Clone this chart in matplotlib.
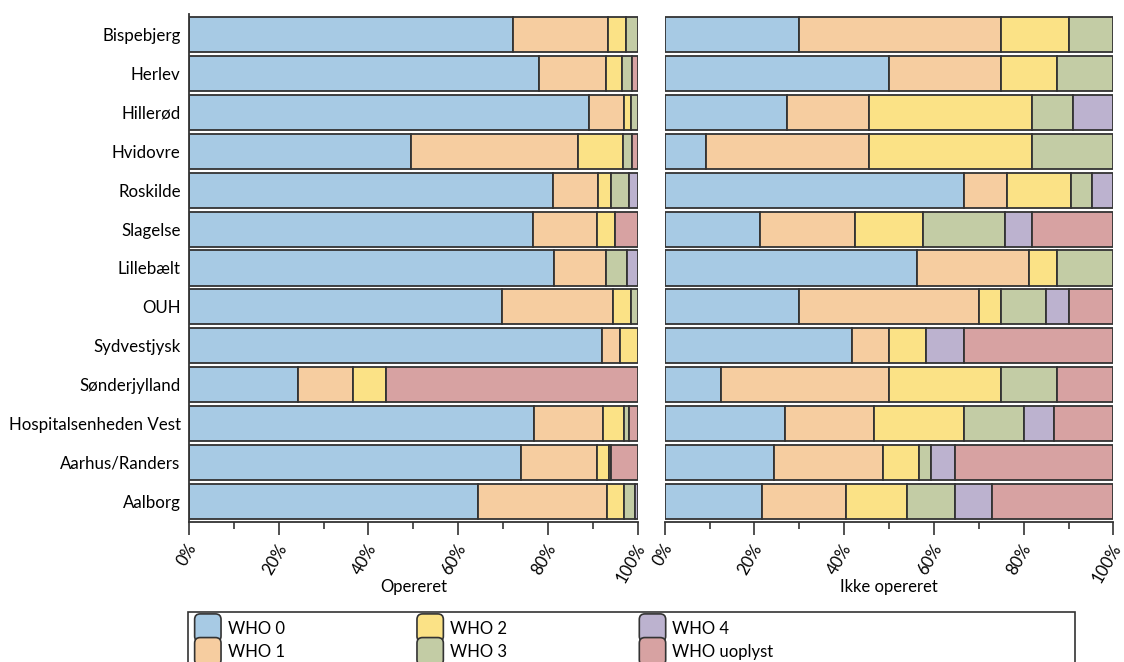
import numpy as np
import matplotlib
matplotlib.use("Agg")
import matplotlib.pyplot as plt
import matplotlib.transforms as mtransforms
from matplotlib.patches import FancyBboxPatch, Rectangle
from matplotlib.legend_handler import HandlerPatch
from matplotlib.ticker import MultipleLocator, FuncFormatter

# hospitals, top to bottom
hospitals = ["Bispebjerg", "Herlev", "Hillerød", "Hvidovre", "Roskilde", "Slagelse",
             "Lillebælt", "OUH", "Sydvestjysk", "Sønderjylland",
             "Hospitalsenheden Vest", "Aarhus/Randers", "Aalborg"]

categories = ["WHO 0", "WHO 1", "WHO 2", "WHO 3", "WHO 4", "WHO uoplyst"]

# opereret (%)
op_who0 = [72.3, 77.9, 89.2, 49.4, 81.1, 76.7, 81.4, 69.8, 92.0, 24.4, 77.0, 73.9, 64.4]
op_who1 = [21.1, 15.1, 7.7, 37.4, 10.0, 14.2, 11.6, 24.8, 4.0, 12.2, 15.3, 17.0, 28.8]
op_who2 = [3.9, 3.6, 1.5, 9.9, 3.0, 4.0, 0, 3.8, 4.0, 7.3, 4.7, 2.7, 3.8]
op_who3 = [2.7, 2.2, 1.6, 2.1, 4.0, 0, 4.7, 1.6, 0, 0, 1.1, 0.5, 2.3]
op_who4 = [0, 0, 0, 0, 1.9, 0, 2.3, 0, 0, 0, 0, 0, 0.7]
op_uopl = [0, 1.2, 0, 1.2, 0, 5.1, 0, 0, 0, 56.1, 1.9, 5.9, 0]

# ikke opereret (%)
ik_who0 = [30.0, 50.0, 27.3, 9.1, 66.7, 21.2, 56.3, 30.0, 41.7, 12.5, 26.7, 24.3, 21.6]
ik_who1 = [45.0, 25.0, 18.2, 36.4, 9.5, 21.2, 25.0, 40.0, 8.3, 37.5, 20.0, 24.3, 18.9]
ik_who2 = [15.0, 12.5, 36.4, 36.4, 14.3, 15.2, 6.2, 5.0, 8.3, 25.0, 20.0, 8.1, 13.5]
ik_who3 = [10.0, 12.5, 9.1, 18.1, 4.7, 18.2, 12.5, 10.0, 0, 12.5, 13.3, 2.7, 10.8]
ik_who4 = [0, 0, 9.0, 0, 4.8, 6.1, 0, 5.0, 8.3, 0, 6.7, 5.4, 8.1]
ik_uopl = [0, 0, 0, 0, 0, 18.1, 0, 10.0, 33.4, 12.5, 13.3, 35.2, 27.1]

colors = ["#A7CAE4", "#F6CDA0", "#FBE286", "#C3CCA5", "#BCB2CF", "#D7A2A2"]
edge = "#333333"

plt.rcParams['font.family'] = ['Lato', 'DejaVu Sans']

W, H = 1124, 662


def stacked(fig, ax, series):
    y = np.arange(len(hospitals))
    left = np.zeros(len(hospitals))
    for vals, col, name in zip(series, colors, categories):
        vals = np.array(vals, dtype=float)
        lw = np.where(vals > 0, 1.3, 0.0)
        ax.barh(y, vals, left=left, height=0.9, color=col, edgecolor=edge,
                linewidth=lw, label=name)
        left += vals
    ax.set_xlim(0, 100)
    ax.set_ylim(len(hospitals) - 0.5 + 0.03, -0.5 - 0.03)

    # axis styling
    for s in ["top", "right"]:
        ax.spines[s].set_visible(False)
    for s in ["bottom", "left"]:
        ax.spines[s].set_color(edge)
        ax.spines[s].set_linewidth(1.3)
    ax.xaxis.set_major_locator(MultipleLocator(20))
    ax.xaxis.set_minor_locator(MultipleLocator(10))
    ax.xaxis.set_major_formatter(FuncFormatter(lambda v, p: "%d%%" % v))
    ax.tick_params(axis="x", which="major", length=9.5, width=1.2, color=edge,
                   labelsize=12, pad=7)
    ax.tick_params(axis="x", which="minor", length=5, width=1.2, color=edge)
    # rotated labels, nudged a little to the right like the original
    offset = mtransforms.ScaledTranslation(4 / 100, 0, fig.dpi_scale_trans)
    for lab in ax.get_xticklabels():
        lab.set_rotation(60)
        lab.set_ha("right")
        lab.set_va("center")
        lab.set_rotation_mode("anchor")
        lab.set_transform(lab.get_transform() + offset)
    ax.set_yticks(y)
    ax.tick_params(axis="y", length=0)


class RoundPatchHandler(HandlerPatch):
    def create_artists(self, legend, orig_handle, xdescent, ydescent,
                       width, height, fontsize, trans):
        w, h = 19, 20
        x0 = (width - w) / 2 - xdescent
        y0 = (height - h) / 2 - ydescent
        p = FancyBboxPatch((x0, y0), w, h, boxstyle="round,pad=0,rounding_size=4",
                           facecolor=orig_handle.get_facecolor(),
                           edgecolor=edge, linewidth=1.2, transform=trans)
        return [p]


def main():
    fig = plt.figure(figsize=(W / 100, H / 100), dpi=100)

    ax1 = fig.add_axes([189 / W, 140 / H, 448.7 / W, 508 / H])
    ax2 = fig.add_axes([664.7 / W, 140 / H, 448.7 / W, 508 / H])

    stacked(fig, ax1, [op_who0, op_who1, op_who2, op_who3, op_who4, op_uopl])
    stacked(fig, ax2, [ik_who0, ik_who1, ik_who2, ik_who3, ik_who4, ik_uopl])

    ax1.set_yticklabels(hospitals, fontsize=12.2)
    ax1.tick_params(axis="y", pad=6)
    ax2.set_yticklabels([])
    ax2.spines["left"].set_visible(False)

    ax1.set_xlabel("Opereret", fontsize=12, labelpad=-5)
    ax2.set_xlabel("Ikke opereret", fontsize=12, labelpad=-5)

    # legend frame (runs off the bottom of the picture)
    fig.patches.append(Rectangle((188 / W, -20 / H), (1075 - 188) / W, (662 - 612 + 20) / H,
                                 transform=fig.transFigure, facecolor="white",
                                 edgecolor=edge, linewidth=1.2))

    labels = categories
    handles = [c.patches[0] for c in ax1.containers]
    fig.legend(handles, labels, ncol=3, loc="upper left",
               bbox_to_anchor=(187 / W, 1 - 612 / H),
               frameon=False, fontsize=12,
               handler_map={type(handles[0]): RoundPatchHandler()},
               handlelength=1.5, handleheight=1.0, handletextpad=0.45,
               columnspacing=7.97, labelspacing=0.45, borderpad=0.5,
               borderaxespad=0)

    fig.savefig("out.png", dpi=100)


if __name__ == "__main__":
    main()
